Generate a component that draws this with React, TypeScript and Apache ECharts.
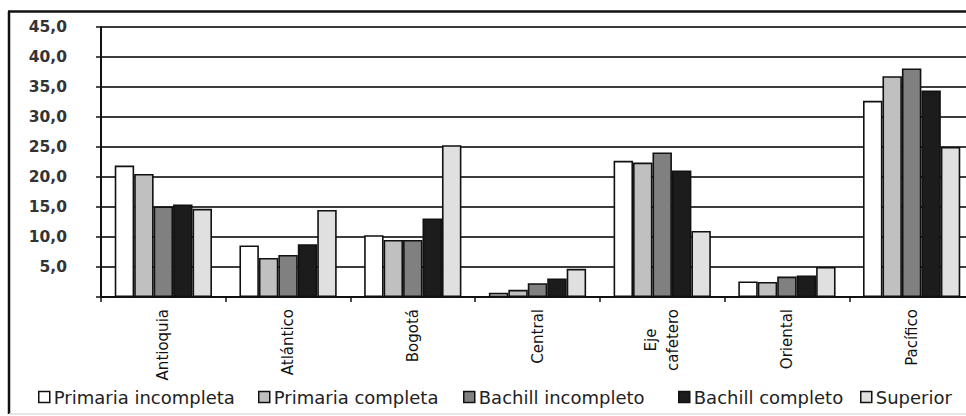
import React, { useEffect, useRef } from "react";
import * as echarts from "echarts";

const categories = ["Antioquia", "Atlántico", "Bogotá", "Central", "Eje\ncafetero", "Oriental", "Pacífico"];
const seriesNames = ["Primaria incompleta", "Primaria completa", "Bachill incompleto", "Bachill completo", "Superior"];
const primariaIncompleta = [21.9, 8.6, 10.3, 0.7, 22.7, 2.6, 32.7];
const primariaCompleta = [20.5, 6.5, 9.5, 1.2, 22.4, 2.5, 36.8];
const bachillIncompleto = [15.1, 7.0, 9.5, 2.3, 24.1, 3.4, 38.1];
const bachillCompleto = [15.4, 8.8, 13.1, 3.1, 21.1, 3.6, 34.4];
const superior = [14.7, 14.5, 25.3, 4.7, 11.0, 5.0, 25.0];
const seriesValues = [primariaIncompleta, primariaCompleta, bachillIncompleto, bachillCompleto, superior];
const seriesColors = ["#ffffff", "#c0c0c0", "#808080", "#1c1c1c", "#e0e0e0"];
const legendLefts = [38, 258, 463, 678, 860];

const FONT = "DejaVu Sans";

export default function App() {
  const ref = useRef<HTMLDivElement>(null);
  useEffect(() => {
    if (!ref.current) return;
    const chart = echarts.init(ref.current, null, { renderer: "svg" });
    chart.setOption({
      animation: false,
      backgroundColor: "#ffffff",
      grid: { left: 101, top: 27, bottom: 119, right: 2, containLabel: false },
      xAxis: {
        type: "category",
        data: categories,
        boundaryGap: true,
        axisLine: { lineStyle: { color: "#111", width: 2 } },
        axisTick: { show: true, length: 5, interval: 0, lineStyle: { color: "#111", width: 1.5 } },
        axisLabel: {
          interval: 0,
          rotate: 90,
          margin: 12,
          color: "#111",
          fontFamily: FONT,
          fontSize: 15,
          formatter: (v: string) =>
            v.indexOf("\n") >= 0 ? v.split("\n").map((s) => `{c|${s}}`).join("\n") : v,
          rich: { c: { align: "center", fontFamily: FONT, fontSize: 15, color: "#111", lineHeight: 22 } },
        },
        splitLine: { show: false },
      },
      yAxis: {
        type: "value",
        min: 0,
        max: 45,
        interval: 5,
        axisLine: { show: true, lineStyle: { color: "#111", width: 2 } },
        axisTick: { show: true, length: 5, lineStyle: { color: "#111", width: 1.5 } },
        axisLabel: {
          margin: 34,
          color: "#333",
          fontFamily: FONT,
          fontSize: 15.5,
          fontWeight: "bold",
          formatter: (v: number) => (v === 0 ? "" : v.toFixed(1).replace(".", ",")),
        },
        splitLine: { show: true, lineStyle: { color: "#3c3c3c", width: 2 } },
      },
      legend: seriesNames.map((name, i) => ({
        data: [name],
        left: legendLefts[i],
        top: 388,
        orient: "horizontal",
        itemWidth: 11,
        itemHeight: 11,
        icon: "rect",
        padding: 0,
        itemStyle: { borderColor: "#111", borderWidth: 1.5 },
        textStyle: { fontFamily: FONT, fontSize: 18, color: "#222", padding: [0, 0, 0, -1] },
        selectedMode: false,
      })),
      series: seriesNames.map((name, i) => ({
        name,
        type: "bar",
        data: seriesValues[i],
        barGap: "0%",
        barCategoryGap: "22%",
        itemStyle: { color: seriesColors[i], borderColor: "#111", borderWidth: 1.6 },
        emphasis: { disabled: true },
      })),
      graphic: [
        { type: "line", shape: { x1: 9, y1: 11.5, x2: 9, y2: 414 }, style: { stroke: "#111", lineWidth: 2.5 }, z: 100 },
        { type: "line", shape: { x1: 8, y1: 11.5, x2: 976, y2: 11.5 }, style: { stroke: "#111", lineWidth: 2.5 }, z: 100 },
        { type: "line", shape: { x1: 9, y1: 414, x2: 976, y2: 414 }, style: { stroke: "#dddddd", lineWidth: 1.5 }, z: 100 },
      ],
    });
    return () => chart.dispose();
  }, []);
  return (
    <div
      ref={ref}
      style={{ position: "fixed", left: 0, top: 0, width: 976, height: 416, background: "#fff" }}
    />
  );
}
